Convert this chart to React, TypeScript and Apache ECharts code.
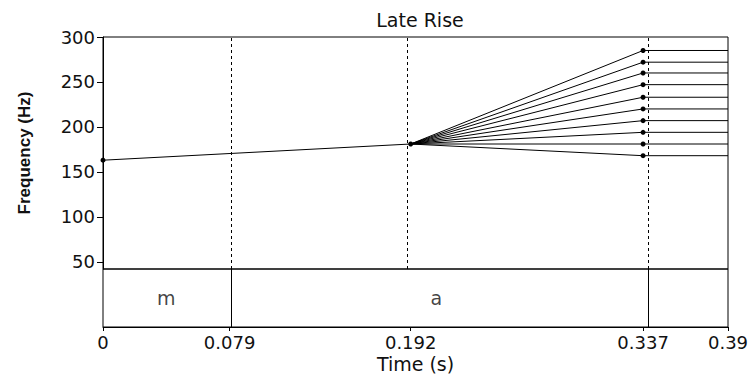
import React, { useEffect, useRef } from "react";
import * as echarts from "echarts";

// ---- data ----
const chartTitle = "Late Rise";
const yTickValues = [50, 100, 150, 200, 250, 300];
const xTickValues = [0, 0.079, 0.192, 0.337, 0.39];
const dashedTimes = [0.079, 0.192, 0.337];
const onsetTimes = [0, 0.192];
const onsetF0 = [163, 181];
const fanTimes = [0.192, 0.337, 0.39];
const fanStartF0 = 181;
const fanEndF0 = [285, 272, 260, 247, 233, 220, 207, 194, 181, 168];
const segLabels = ["m", "a"];
const segStarts = [0, 0.079];
const segEnds = [0.079, 0.337];
const boundaryTimes = [0.079, 0.337];

const FONT = "DejaVu Sans";
const INK = "#111";

export default function App() {
  const ref = useRef<HTMLDivElement>(null);
  useEffect(() => {
    if (!ref.current) return;
    const chart = echarts.init(ref.current, null, { renderer: "svg" });

    const fanSeries = fanEndF0.map((end, i) => ({
      type: "line",
      name: "fan" + i,
      xAxisIndex: 0,
      yAxisIndex: 0,
      data: [
        [fanTimes[0], fanStartF0],
        [fanTimes[1], end],
        [fanTimes[2], end],
      ],
      symbol: "circle",
      symbolSize: (_v: any, p: any) => (p.dataIndex === 1 ? 5 : 0),
      showSymbol: true,
      showAllSymbol: true,
      itemStyle: { color: "#000" },
      lineStyle: { color: "#000", width: 1 },
      clip: false,
      silent: true,
    }));

    const option: any = {
      animation: false,
      backgroundColor: "#fff",
      title: {
        text: chartTitle,
        left: 415,
        textAlign: "center",
        top: 5,
        textStyle: { fontFamily: FONT, fontSize: 19, fontWeight: "normal", color: INK },
      },
      grid: [
        {
          left: 103, top: 37, width: 625, height: 232,
          show: true, borderColor: "#000", borderWidth: 1,
          outerBoundsMode: "none",
        },
        {
          left: 103, top: 269, width: 625, height: 58,
          show: true, borderColor: "#000", borderWidth: 1,
          outerBoundsMode: "none",
        },
      ],
      xAxis: [
        { type: "value", gridIndex: 0, min: 0, max: 0.39, show: false },
        {
          type: "value", gridIndex: 1, min: 0, max: 0.39,
          name: "Time (s)", nameLocation: "middle", nameGap: 27,
          nameTextStyle: { fontFamily: FONT, fontSize: 19, color: INK },
          axisLine: { show: true, lineStyle: { color: "#000", width: 1 } },
          axisTick: { show: true, length: 4, customValues: xTickValues, lineStyle: { color: "#000" } },
          axisLabel: {
            show: true, customValues: xTickValues, margin: 6, hideOverlap: false,
            fontFamily: FONT, fontSize: 18, color: INK,
            formatter: (v: number) => String(v),
          },
          splitLine: { show: false },
        },
      ],
      yAxis: [
        {
          type: "value", gridIndex: 0, min: 42, max: 300,
          name: "Frequency (Hz)", nameLocation: "middle", nameGap: 70, nameRotate: 90,
          nameTextStyle: { fontFamily: "Liberation Sans", fontSize: 17, fontWeight: "bold", color: INK },
          axisLine: { show: true, lineStyle: { color: "#000", width: 1 } },
          axisTick: { show: true, length: 6, customValues: yTickValues, lineStyle: { color: "#000" } },
          axisLabel: {
            show: true, customValues: yTickValues, margin: 8,
            fontFamily: FONT, fontSize: 18, color: INK,
          },
          splitLine: { show: false },
        },
        { type: "value", gridIndex: 1, min: 0, max: 1, show: false },
      ],
      series: [
        {
          type: "line",
          name: "onset",
          xAxisIndex: 0,
          yAxisIndex: 0,
          data: onsetTimes.map((t, i) => [t, onsetF0[i]]),
          symbol: "circle",
          symbolSize: 5,
          showSymbol: true,
          itemStyle: { color: "#000" },
          lineStyle: { color: "#000", width: 1 },
          clip: false,
          silent: true,
          markLine: {
            silent: true,
            symbol: ["none", "none"],
            label: { show: false },
            lineStyle: { color: "#000", width: 1, type: [3, 3] },
            data: dashedTimes.map((t) => ({ xAxis: t })),
          },
        },
        ...fanSeries,
        {
          type: "scatter",
          name: "segments",
          xAxisIndex: 1,
          yAxisIndex: 1,
          data: segLabels.map((s, i) => ({ name: s, value: [(segStarts[i] + segEnds[i]) / 2, 0.5] })),
          symbol: "circle",
          symbolSize: 1,
          itemStyle: { color: "rgba(0,0,0,0)" },
          label: {
            show: true, position: "inside", formatter: "{b}",
            fontFamily: FONT, fontSize: 19, color: INK,
          },
          silent: true,
          markLine: {
            silent: true,
            symbol: ["none", "none"],
            label: { show: false },
            lineStyle: { color: "#000", width: 1, type: "solid" },
            data: boundaryTimes.map((t) => ({ xAxis: t })),
          },
        },
      ],
    };
    chart.setOption(option);
    return () => chart.dispose();
  }, []);

  return (
    <div
      ref={ref}
      style={{ position: "fixed", left: 0, top: 0, width: 750, height: 379, background: "#fff" }}
    />
  );
}
